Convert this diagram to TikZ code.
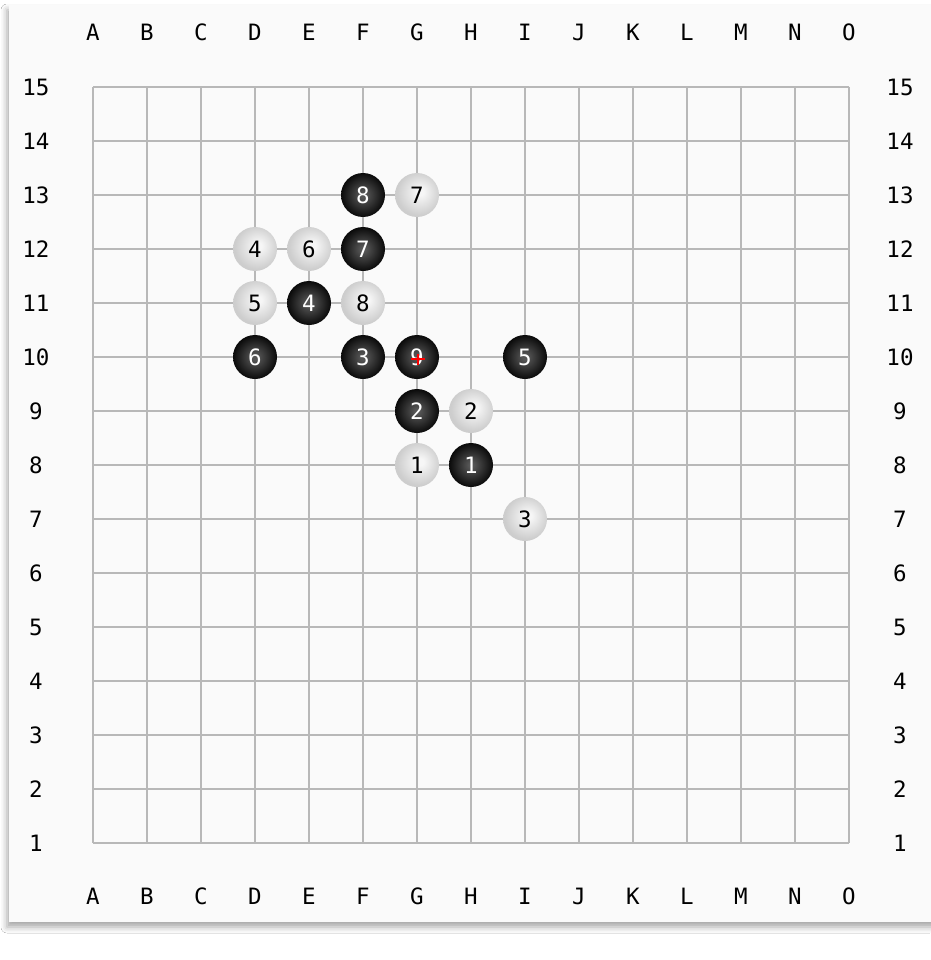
\documentclass[tikz,border=0pt]{standalone}
\usepackage{fontspec}
\setmainfont{DejaVu Sans Mono}
\usetikzlibrary{shadows.blur}
\definecolor{panelbg}{HTML}{FAFAFA}
\definecolor{gridc}{HTML}{B8B8B8}
\definecolor{bsc}{HTML}{555555}
\definecolor{bse}{HTML}{0A0A0A}
\definecolor{wsc}{HTML}{F6F6F6}
\definecolor{wse}{HTML}{CDCDCD}
\pgfdeclareradialshading{blackball}{\pgfpoint{0bp}{0bp}}{color(0bp)=(bsc); color(3bp)=(bsc); color(25bp)=(bse); color(50bp)=(bse)}
\pgfdeclareradialshading{whiteball}{\pgfpoint{4bp}{4bp}}{color(0bp)=(wsc); color(4bp)=(wsc); color(25bp)=(wse); color(50bp)=(wse)}
\tikzset{
  lbl/.style={font=\fontsize{22.5}{24}\selectfont, inner sep=0},
  stone/.style={circle, minimum size=44pt, inner sep=0, font=\fontsize{22.5}{24}\selectfont},
  bstone/.style={stone, shading=blackball, text=white},
  wstone/.style={stone, shading=whiteball, text=black},
  gridline/.style={draw=gridc, line width=1.4pt},
  lastmove/.style={draw=red, line width=1.8pt}
}
\begin{document}
\begin{tikzpicture}[x=1pt,y=-1pt]
\useasboundingbox (0,0) rectangle (930,960);
\fill[white] (0,0) rectangle (930,960);
\fill[panelbg, blur shadow={shadow xshift=-2pt, shadow yshift=-5pt, shadow blur radius=6pt, shadow opacity=35}] (9,5) rectangle (945,922);
% grid
\foreach \i in {0,...,14} {
  \draw[gridline] (93+54*\i,87) -- (93+54*\i,843);
  \draw[gridline] (93,87+54*\i) -- (849,87+54*\i);
}
% labels
\foreach \c [count=\i from 0] in {A,B,C,D,E,F,G,H,I,J,K,L,M,N,O} {
  \node[lbl] (top\c) at (93+54*\i,32) {\c};
  \node[lbl] (bot\c) at (93+54*\i,896) {\c};
}
\foreach \r in {1,...,15} {
  \node[lbl] (left\r) at (36,843-54*\r+54) {\r};
  \node[lbl] (right\r) at (900,843-54*\r+54) {\r};
}
% black stones
\node[bstone] (F13) at (363,195) {8};
\node[bstone] (F12) at (363,249) {7};
\node[bstone] (E11) at (309,303) {4};
\node[bstone] (D10) at (255,357) {6};
\node[bstone] (F10) at (363,357) {3};
\node[bstone] (G10) at (417,357) {9};
\node[bstone] (I10) at (525,357) {5};
\node[bstone] (G9)  at (417,411) {2};
\node[bstone] (H8)  at (471,465) {1};
% white stones
\node[wstone] (G13) at (417,195) {7};
\node[wstone] (D12) at (255,249) {4};
\node[wstone] (E12) at (309,249) {6};
\node[wstone] (D11) at (255,303) {5};
\node[wstone] (F11) at (363,303) {8};
\node[wstone] (H9)  at (471,411) {2};
\node[wstone] (G8)  at (417,465) {1};
\node[wstone] (I7)  at (525,519) {3};
% last move mark
\draw[lastmove] ([shift={(-6,2)}]G10.center) -- ([shift={(8,2)}]G10.center);
\draw[lastmove] ([shift={(1,-3)}]G10.center) -- ([shift={(1,8)}]G10.center);
\end{tikzpicture}
\end{document}
